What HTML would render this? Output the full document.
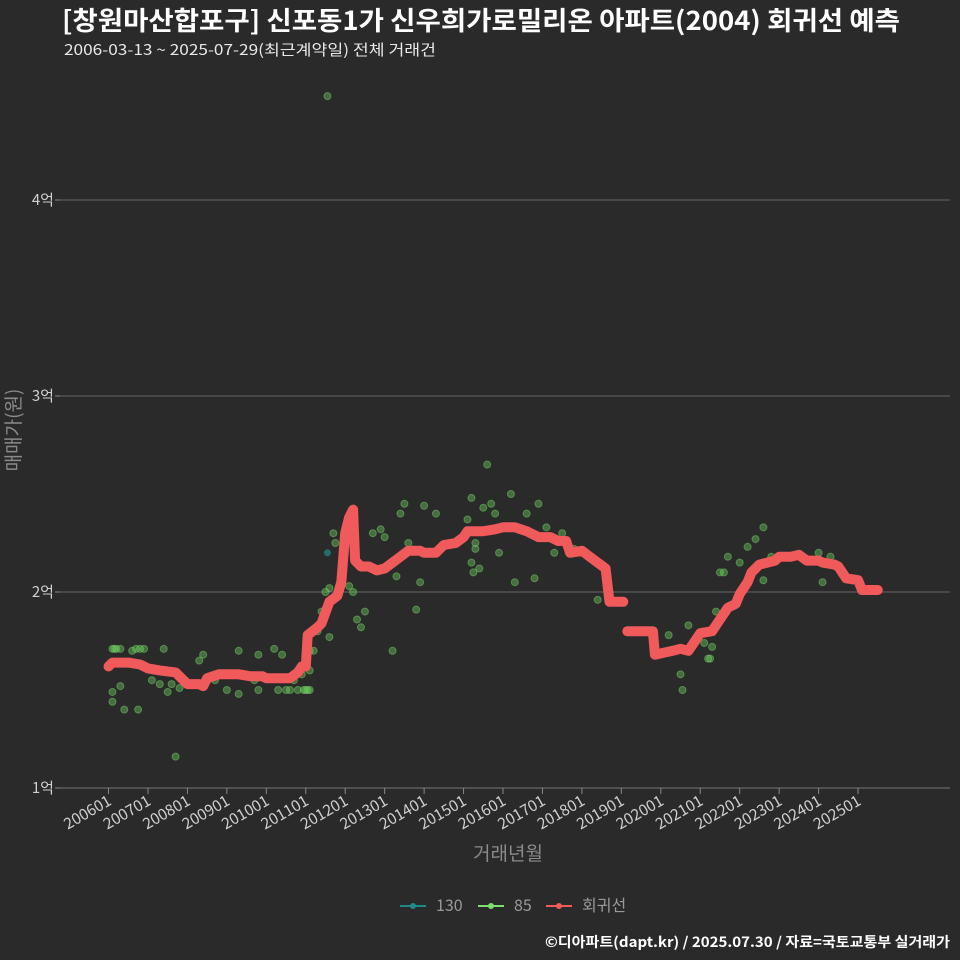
<!DOCTYPE html>
<html><head><meta charset="utf-8"><style>
html,body{margin:0;background:#2b2a2b;overflow:hidden;width:960px;height:960px;}
svg{display:block;}
svg text{font-family:"Noto Sans CJK KR","Liberation Sans",sans-serif;}
</style></head><body>
<svg id="c" width="960" height="960" xmlns="http://www.w3.org/2000/svg">
<rect width="960" height="960" fill="#2b2a2b"/>
<text x="62" y="30" font-size="26" font-weight="bold" fill="#ffffff" textLength="838" lengthAdjust="spacingAndGlyphs">[창원마산합포구] 신포동1가 신우희가로밀리온 아파트(2004) 회귀선 예측</text>
<text x="64" y="55" font-size="15" fill="#e8e8e8" textLength="372" lengthAdjust="spacingAndGlyphs">2006-03-13 ~ 2025-07-29(최근계약일) 전체 거래건</text>
<g id="grid"></g><g id="pts"></g><g id="line"></g><g id="axes"></g>
<text transform="translate(20,430) rotate(-90)" text-anchor="middle" font-size="19" fill="#8a8a8a">매매가(원)</text>
<text x="508" y="860" text-anchor="middle" font-size="19" fill="#8a8a8a">거래년월</text>
<g font-size="16" fill="#9a9a9a">
<g><line x1="400" y1="906" x2="426" y2="906" stroke="#1f8a8a" stroke-width="2"/><circle cx="413" cy="906" r="3" fill="#1f8a8a"/><text x="436" y="911">130</text></g>
<g><line x1="478" y1="906" x2="504" y2="906" stroke="#7be06a" stroke-width="2"/><circle cx="491" cy="906" r="3" fill="#7be06a"/><text x="514" y="911">85</text></g>
<g><line x1="546" y1="906" x2="572" y2="906" stroke="#f05a5a" stroke-width="2"/><circle cx="559" cy="906" r="3" fill="#f05a5a"/><text x="582" y="911">회귀선</text></g>
</g>
<text x="950" y="947" text-anchor="end" font-size="14" font-weight="bold" fill="#ffffff" textLength="405" lengthAdjust="spacingAndGlyphs">©디아파트(dapt.kr) / 2025.07.30 / 자료=국토교통부 실거래가</text>
</svg>
<script>
const yTicks=[1,2,3,4];
const yTickLabels=["1억","2억","3억","4억"];
const xTicks=[2006,2007,2008,2009,2010,2011,2012,2013,2014,2015,2016,2017,2018,2019,2020,2021,2022,2023,2024,2025];
const xTickLabels=["200601","200701","200801","200901","201001","201101","201201","201301","201401","201501","201601","201701","201801","201901","202001","202101","202201","202301","202401","202501"];
const regT=[2006.0,2006.1,2006.5,2006.8,2007.0,2007.3,2007.7,2007.9,2008.0,2008.3,2008.4,2008.5,2008.8,2009.0,2009.3,2009.6,2009.9,2010.0,2010.3,2010.6,2010.8,2010.9,2011.0,2011.05,2011.3,2011.4,2011.6,2011.8,2011.9,2012.0,2012.1,2012.2,2012.25,2012.4,2012.6,2012.8,2013.0,2013.2,2013.4,2013.6,2013.9,2014.0,2014.3,2014.5,2014.8,2015.0,2015.1,2015.5,2015.8,2016.0,2016.3,2016.6,2016.9,2017.2,2017.4,2017.6,2017.7,2018.0,2018.2,2018.4,2018.6,2018.7,2019.05,2019.1,2019.15,2019.8,2019.85,2020.3,2020.5,2020.7,2020.8,2021.0,2021.3,2021.5,2021.7,2021.9,2022.0,2022.2,2022.3,2022.5,2022.7,2022.9,2023.0,2023.3,2023.5,2023.7,2024.0,2024.1,2024.4,2024.5,2024.7,2025.0,2025.1,2025.5];
const regV=[1.62,1.64,1.64,1.63,1.61,1.60,1.59,1.55,1.53,1.53,1.52,1.56,1.58,1.58,1.58,1.57,1.57,1.56,1.56,1.56,1.59,1.62,1.62,1.78,1.82,1.84,1.95,1.98,2.05,2.30,2.38,2.42,2.16,2.13,2.13,2.11,2.12,2.15,2.18,2.21,2.21,2.20,2.20,2.24,2.25,2.28,2.31,2.31,2.32,2.33,2.33,2.31,2.28,2.28,2.26,2.26,2.20,2.21,2.18,2.15,2.12,1.95,1.95,null,1.80,1.80,1.68,1.70,1.71,1.70,1.73,1.79,1.80,1.86,1.92,1.94,1.99,2.05,2.10,2.14,2.15,2.16,2.18,2.18,2.19,2.16,2.16,2.15,2.14,2.13,2.07,2.06,2.01,2.01];
const p85T=[2006.1,2006.15,2006.2,2006.3,2006.1,2006.1,2006.3,2006.4,2006.6,2006.7,2006.8,2006.9,2006.75,2007.1,2007.3,2007.4,2007.5,2007.6,2007.7,2007.8,2008.0,2008.3,2008.3,2008.4,2008.7,2009.0,2009.3,2009.3,2009.7,2009.8,2009.8,2010.2,2010.3,2010.4,2010.5,2010.6,2010.8,2010.8,2010.7,2010.9,2010.95,2011.0,2011.05,2011.1,2011.1,2011.1,2011.2,2011.3,2011.4,2011.5,2011.6,2011.6,2011.7,2011.75,2012.0,2012.1,2012.2,2012.3,2012.4,2012.5,2012.7,2012.9,2013.0,2013.2,2013.3,2013.4,2013.5,2013.6,2013.8,2013.9,2014.0,2014.3,2014.8,2015.1,2015.2,2015.3,2015.2,2015.25,2015.3,2015.4,2015.5,2015.6,2015.7,2015.8,2015.9,2016.2,2016.3,2016.6,2016.8,2016.9,2017.1,2017.3,2017.5,2017.6,2017.8,2018.4,2020.2,2020.4,2020.5,2020.55,2020.7,2021.1,2021.2,2021.25,2021.3,2021.4,2021.5,2021.6,2021.7,2022.0,2022.2,2022.4,2022.6,2022.6,2022.8,2023.0,2024.0,2024.1,2024.3,2011.55];
const p85V=[1.71,1.71,1.71,1.71,1.49,1.44,1.52,1.40,1.70,1.71,1.71,1.71,1.40,1.55,1.53,1.71,1.49,1.53,1.16,1.51,1.53,1.53,1.65,1.68,1.55,1.50,1.48,1.70,1.55,1.50,1.68,1.71,1.50,1.68,1.50,1.50,1.50,1.60,1.55,1.58,1.50,1.50,1.50,1.50,1.60,1.70,1.70,1.80,1.90,2.00,2.02,1.77,2.30,2.25,2.26,2.03,2.00,1.86,1.82,1.90,2.30,2.32,2.28,1.70,2.08,2.40,2.45,2.25,1.91,2.05,2.44,2.40,2.25,2.37,2.48,2.25,2.15,2.10,2.22,2.12,2.43,2.65,2.45,2.40,2.20,2.50,2.05,2.40,2.07,2.45,2.33,2.20,2.30,2.25,2.22,1.96,1.78,1.71,1.58,1.50,1.83,1.74,1.66,1.66,1.72,1.90,2.10,2.10,2.18,2.15,2.23,2.27,2.33,2.06,2.18,2.18,2.20,2.05,2.18,4.53];
const p130T=[2011.55];
const p130V=[2.20];
const NS="http://www.w3.org/2000/svg";
const X=t=>108.5+(t-2006)*39.45, Y=v=>788-(v-1)*196;
function mk(tag,attrs,parent){const e=document.createElementNS(NS,tag);for(const k in attrs)e.setAttribute(k,attrs[k]);document.getElementById(parent).appendChild(e);return e;}
yTicks.forEach((v,i)=>{
 const g=mk('line',{x1:60,x2:950,y1:Y(v),y2:Y(v),stroke:i==0?'#777':'#666','stroke-width':1},'grid');
 
 
 const tk=mk('line',{x1:55,x2:60,y1:Y(v),y2:Y(v),stroke:'#888'},'axes');
 
 
 const t=mk('text',{x:54,y:Y(v)+5,'text-anchor':'end','font-size':15,fill:'#cfcfcf'},'axes');
 t.textContent=yTickLabels[i];
 
 
});
xTicks.forEach((v,i)=>{
 const tk=mk('line',{x1:X(v),x2:X(v),y1:788,y2:794,stroke:'#888'},'axes');
 
 
 const t=mk('text',{transform:`translate(${X(v)+4},${804}) rotate(-30)`,'text-anchor':'end','font-size':15.5,fill:'#cfcfcf'},'axes');
 t.textContent=xTickLabels[i];
 
 
});
p85T.forEach((t,i)=>{
 const c=mk('circle',{cx:X(t),cy:Y(p85V[i]),r:3.5,fill:'#6fd160','fill-opacity':0.4,stroke:'#6fd160','stroke-opacity':0.5,'stroke-width':1},'pts');
 
 
});
p130T.forEach((t,i)=>{
 const c=mk('circle',{cx:X(t),cy:Y(p130V[i]),r:3.5,fill:'#1f8a8a','fill-opacity':0.7},'pts');
 
 
});
let d='',pen=false;
regT.forEach((t,i)=>{const v=regV[i];if(v==null){pen=false;return;}d+=(pen?'L':'M')+X(t).toFixed(1)+','+Y(v).toFixed(1);pen=true;});
const ln=mk('path',{d:d,fill:'none',stroke:'#f05a5a','stroke-width':10,'stroke-linecap':'round','stroke-linejoin':'round'},'line');


</script>
</body></html>
